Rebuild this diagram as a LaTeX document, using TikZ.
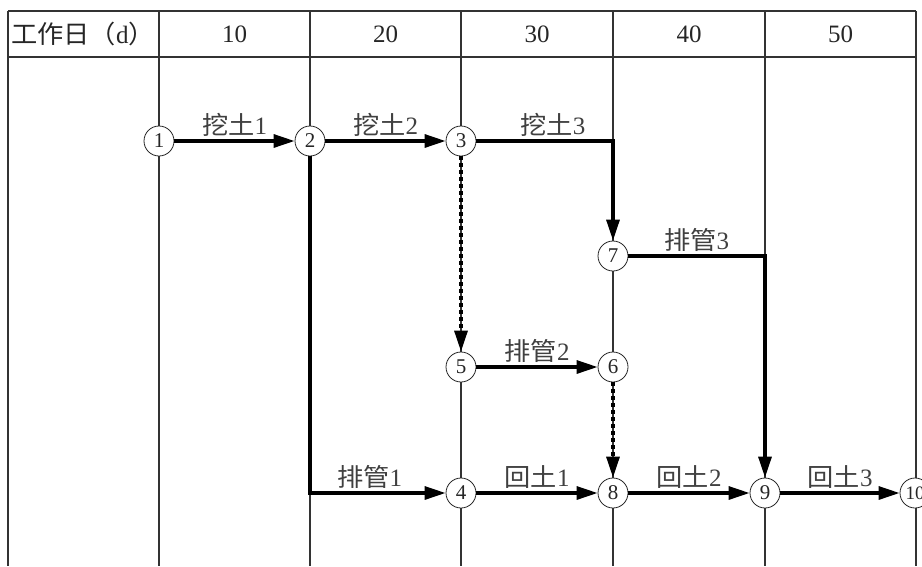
\documentclass[tikz,border=0pt]{standalone}
\usepackage{fontspec}
\setmainfont{Liberation Serif}
\newfontfamily\cjk[FakeStretch=1.05]{Noto Sans CJK SC}
\usetikzlibrary{arrows.meta}
\begin{document}
\begin{tikzpicture}[x=1pt,y=-1pt,
  grid/.style={line width=1.5pt, draw=black!80},
  ev/.style={circle, draw=black!85, line width=0.8pt, fill=white, minimum size=30pt, inner sep=0pt, font=\fontsize{21}{21}\selectfont, text=black!85},
  act/.style={line width=3.2pt, draw=black, -{Triangle[length=21pt,width=13pt]}},
  dum/.style={act, dash pattern=on 4pt off 3pt},
  lab/.style={font=\fontsize{25}{25}\selectfont, text=black!75, anchor=south, inner sep=3pt},
  hdr/.style={font=\fontsize{25}{25}\selectfont, text=black!85}
]
\useasboundingbox (0,0) rectangle (922,566);
\clip (0,0) rectangle (922,566);
\fill[white] (0,0) rectangle (922,566);
% grid
\draw[grid] (8,11) -- (916,11);
\draw[grid] (8,57) -- (916,57);
\foreach \x in {8,159,310,461,613,765,916} \draw[grid] (\x,11) -- (\x,566);
% header
\node[hdr] (h0) at (83,34) {{\cjk 工作日（}d{\cjk ）}};
\node[hdr] (h1) at (234.5,34) {10};
\node[hdr] (h2) at (385.5,34) {20};
\node[hdr] (h3) at (537,34) {30};
\node[hdr] (h4) at (689,34) {40};
\node[hdr] (h5) at (840.5,34) {50};
% events
\node[ev] (n1) at (159,141) {1};
\node[ev] (n2) at (310,141) {2};
\node[ev] (n3) at (461,141) {3};
\node[ev] (n7) at (613,256) {7};
\node[ev] (n5) at (461,367) {5};
\node[ev] (n6) at (613,367) {6};
\node[ev] (n4) at (461,493) {4};
\node[ev] (n8) at (613,493) {8};
\node[ev] (n9) at (765,493) {9};
\node[ev, font=\fontsize{19}{19}\selectfont] (n10) at (915,493) {10};
% activities
\draw[act] (n1) -- node[lab] {{\cjk 挖土}1} (n2);
\draw[act] (n2) -- node[lab] {{\cjk 挖土}2} (n3);
\draw[act] (n3) -| node[lab, pos=0.28] {{\cjk 挖土}3} (n7);
\draw[dum] (n3) -- (n5);
\draw[act] (n7) -| node[lab, pos=0.25] {{\cjk 排管}3} (n9);
\draw[act] (n5) -- node[lab] {{\cjk 排管}2} (n6);
\draw[dum] (n6) -- (n8);
\draw[act] (n2) |- node[lab, pos=0.72] {{\cjk 排管}1} (n4);
\draw[act] (n4) -- node[lab] {{\cjk 回土}1} (n8);
\draw[act] (n8) -- node[lab] {{\cjk 回土}2} (n9);
\draw[act] (n9) -- node[lab] {{\cjk 回土}3} (n10);
\end{tikzpicture}
\end{document}
